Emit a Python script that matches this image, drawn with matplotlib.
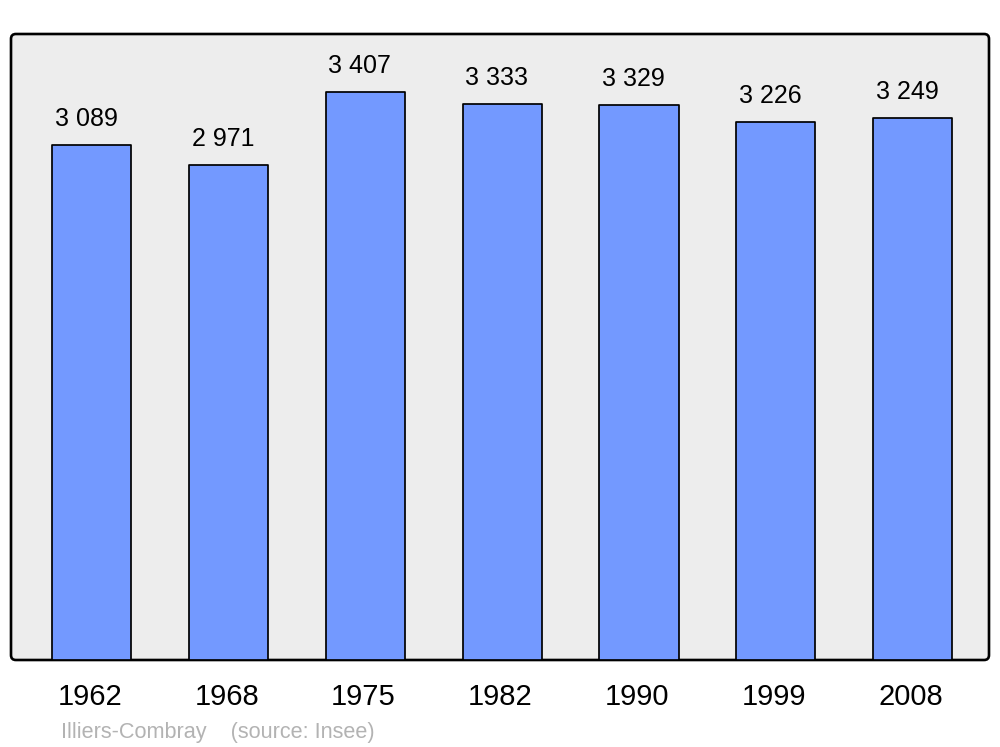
import matplotlib
matplotlib.use("Agg")
import matplotlib.pyplot as plt
from matplotlib.patches import FancyBboxPatch

plt.rcParams['font.family'] = ['Liberation Sans', 'DejaVu Sans']

# population data, Illiers-Combray
years = ['1962', '1968', '1975', '1982', '1990', '1999', '2008']
population = [3089, 2971, 3407, 3333, 3329, 3226, 3249]
value_labels = ['3 089', '2 971', '3 407', '3 333', '3 329', '3 226', '3 249']

fig = plt.figure(figsize=(10, 7.47), dpi=100)
ax = fig.add_axes([0.011, 87 / 747, 0.978, 626 / 747])
ax.set_facecolor('none')

# rounded grey frame
frame = FancyBboxPatch((0, 0), 1, 1, boxstyle="round,pad=0,rounding_size=0.005",
                       transform=ax.transAxes, mutation_aspect=978 / 626,
                       facecolor='#ededed', edgecolor='black', linewidth=1.9,
                       zorder=0, clip_on=False)
ax.add_patch(frame)

x = list(range(len(years)))
ax.bar(x, population, width=0.578, color='#7399ff', edgecolor='black',
       linewidth=1.25, joinstyle='round', zorder=2)

for xi, val, lab in zip(x, population, value_labels):
    ax.annotate(lab, xy=(xi, val), xytext=(-4, 13.7), textcoords='offset points',
                ha='center', va='baseline', fontsize=18)
    ax.annotate(years[xi], xy=(xi, 0), xytext=(-1.5, -32.4), textcoords='offset points',
                ha='center', va='baseline', fontsize=21, annotation_clip=False)

ax.set_xlim(-0.592, 6 + 0.559)
ax.set_ylim(0, 3755)
ax.axis('off')

fig.text(0.061, 9 / 747, 'Illiers-Combray    (source: Insee)', color='#b3b3b3',
         fontsize=15.6, ha='left', va='baseline')

fig.savefig("out.png", dpi=100)
